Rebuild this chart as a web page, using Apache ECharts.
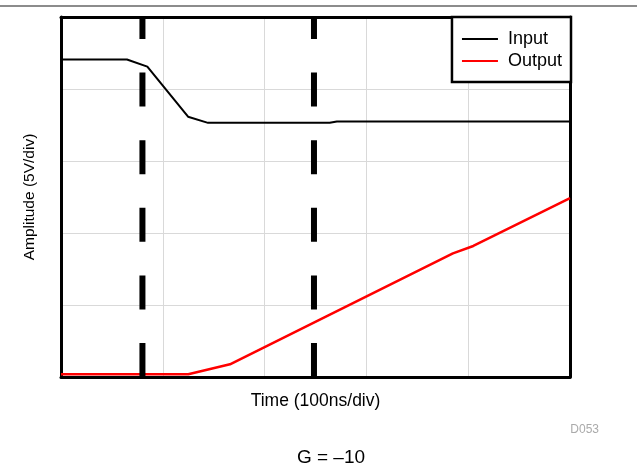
<!DOCTYPE html>
<html>
<head>
<meta charset="utf-8">
<script src="https://cdn.jsdelivr.net/npm/echarts@6/dist/echarts.min.js"></script>
<style>
html,body{margin:0;padding:0;background:#fff;}
#chart{width:637px;height:470px;}
</style>
</head>
<body>
<div id="chart"></div>
<script>
// Time in divisions (100 ns/div), amplitude in divisions (5 V/div)
var inputX = [0, 0.648, 0.848, 1.248, 1.444, 2.64, 2.71, 5.0];
var inputY = [4.41, 4.41, 4.31, 3.615, 3.53, 3.53, 3.55, 3.55];
var outputX = [0, 1.25, 1.66, 3.85, 4.05, 5.0];
var outputY = [0.0375, 0.0375, 0.176, 1.718, 1.82, 2.486];
var markerX = [0.80, 2.485];
var seriesNames = ['Input', 'Output'];
var xTitle = 'Time (100ns/div)';
var yTitle = 'Amplitude (5V/div)';
var caption = 'G = \u201310';
var figId = 'D053';

function pairs(xs, ys) { return xs.map(function (x, i) { return [x, ys[i]]; }); }

var FONT = 'Liberation Sans, Arial, sans-serif';
var chart = echarts.init(document.getElementById('chart'), null, {renderer: 'canvas'});

var series = [
  {name: seriesNames[0], type: 'line', data: pairs(inputX, inputY), symbol: 'none',
   lineStyle: {color: '#000', width: 2}, itemStyle: {color: '#000'}, z: 3, animation: false},
  {name: seriesNames[1], type: 'line', data: pairs(outputX, outputY), symbol: 'none',
   lineStyle: {color: '#ff0000', width: 2.5}, itemStyle: {color: '#ff0000'}, z: 3, animation: false}
];
markerX.forEach(function (mx, i) {
  series.push({name: 'marker' + i, type: 'line', data: [[mx, 0], [mx, 5]], symbol: 'none',
    lineStyle: {color: '#000', width: 6, type: [34, 33.6], cap: 'butt'}, z: 4, silent: true, animation: false});
});

var frameLine = {show: true, onZero: false, lineStyle: {color: '#000', width: 3}};
var grid = {color: '#d9d9d9', width: 1};
function hiddenAxis(pos) {
  return {type: 'value', min: 0, max: 5, interval: 1, position: pos,
    axisLine: frameLine, axisTick: {show: false}, axisLabel: {show: false}, splitLine: {show: false}};
}

chart.setOption({
  animation: false,
  grid: {left: 61, top: 17, right: 67, bottom: 93},
  xAxis: [{type: 'value', min: 0, max: 5, interval: 1, position: 'bottom',
    name: xTitle, nameLocation: 'middle', nameGap: 15,
    nameTextStyle: {fontFamily: FONT, fontSize: 17.5, color: '#000', verticalAlign: 'top'},
    axisLine: frameLine, axisTick: {show: false}, axisLabel: {show: false},
    splitLine: {show: true, lineStyle: grid}}, hiddenAxis('top')],
  yAxis: [{type: 'value', min: 0, max: 5, interval: 1, position: 'left',
    name: yTitle, nameLocation: 'middle', nameGap: 23,
    nameTextStyle: {fontFamily: FONT, fontSize: 15.5, color: '#000'},
    axisLine: frameLine, axisTick: {show: false}, axisLabel: {show: false},
    splitLine: {show: true, lineStyle: grid}}, hiddenAxis('right')],
  legend: {data: seriesNames, orient: 'vertical', right: 66, top: 17,
    backgroundColor: '#fff', borderColor: '#000', borderWidth: 2.5, borderRadius: 0,
    padding: [13, 9, 12, 10], itemGap: 4, itemWidth: 36, itemHeight: 2, icon: 'rect',
    textStyle: {fontFamily: FONT, fontSize: 18, color: '#000', lineHeight: 17, padding: [0, 0, 0, 5]}},
  graphic: [
    {type: 'line', shape: {x1: 0, y1: 6, x2: 637, y2: 6}, style: {stroke: '#8c8c8c', lineWidth: 2}},
    {type: 'text', x: 599, y: 430, style: {text: figId, fill: '#aaaaaa', font: '12px ' + FONT, textAlign: 'right', textVerticalAlign: 'middle'}},
    {type: 'text', x: 331, y: 458, style: {text: caption, fill: '#000', font: '19px ' + FONT, textAlign: 'center', textVerticalAlign: 'middle'}}
  ],
  series: series
});
</script>
</body>
</html>
